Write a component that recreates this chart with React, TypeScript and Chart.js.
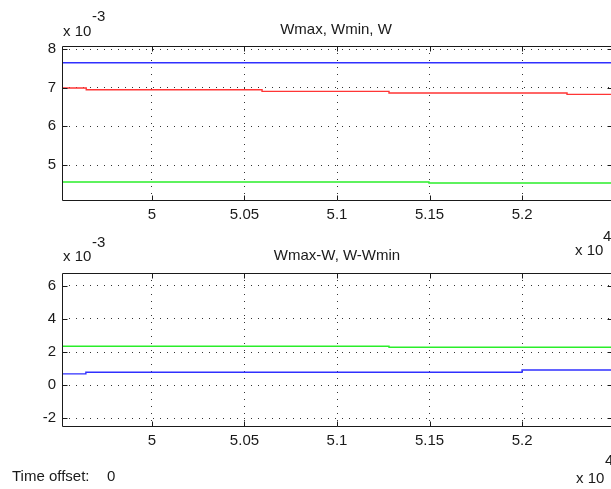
import React, { useEffect, useRef } from 'react';
import { Chart, registerables } from 'chart.js';

Chart.register(...registerables);

// ---- data (time in seconds, signals in their own units) ----
const timeMin = 49514;
const timeMax = 52486;
const timeTickStep = 500;

const wmaxTimes = [49514, 52486];
const wmaxValues = [7.646e-3, 7.646e-3];
const wTimes = [49514, 49645, 50595, 51281, 52243, 52486];
const wValues = [6.992e-3, 6.948e-3, 6.904e-3, 6.863e-3, 6.827e-3, 6.827e-3];
const wminTimes = [49514, 51497, 52486];
const wminValues = [4.56e-3, 4.535e-3, 4.535e-3];

const wmaxMinusWTimes = [49514, 49643, 52000, 52486];
const wmaxMinusWValues = [0.68e-3, 0.78e-3, 0.92e-3, 0.92e-3];
const wMinusWminTimes = [49514, 51281, 52486];
const wMinusWminValues = [2.35e-3, 2.29e-3, 2.29e-3];

const topYMin = 4.095e-3;
const topYMax = 8.078e-3;
const topYStep = 1e-3;
const botYMin = -2.47e-3;
const botYMax = 6.78e-3;
const botYStep = 2e-3;

const topTitle = 'Wmax, Wmin, W';
const botTitle = 'Wmax-W, W-Wmin';
const timeOffsetLabel = 'Time offset:';
const timeOffsetValue = '0';

const FONT_FAMILY = '"Liberation Sans", Arial, sans-serif';
const FONT_SIZE = 15;
const TEXT_COLOR = '#1a1a1a';
const BLUE = '#3030ff';
const RED = '#ff3535';
const GREEN = '#2aee2a';

const pts = (xs: number[], ys: number[]) => xs.map((x, i) => ({ x, y: ys[i] }));

type TextItem = { text: string; x: number; y: number; align: CanvasTextAlign };

const framePlugin = {
  id: 'scopeFrame',
  afterDraw(chart: any, _args: any, opts: any) {
    const ctx = chart.ctx as CanvasRenderingContext2D;
    const a = chart.chartArea;
    const xs = chart.scales.x;
    const ys = chart.scales.y;
    ctx.save();
    ctx.strokeStyle = '#1a1a1a';
    ctx.lineWidth = 1;
    const L = Math.round(a.left) + 0.5;
    const R = Math.round(a.right) + 0.5;
    const T = Math.round(a.top) + 0.5;
    const B = Math.round(a.bottom) + 0.5;
    ctx.beginPath();
    ctx.rect(L, T, R - L, B - T);
    ctx.stroke();
    const tl = 5;
    ctx.beginPath();
    for (const t of xs.ticks) {
      const px = Math.round(xs.getPixelForValue(t.value)) + 0.5;
      ctx.moveTo(px, B);
      ctx.lineTo(px, B - tl);
      ctx.moveTo(px, T);
      ctx.lineTo(px, T + tl);
    }
    for (const t of ys.ticks) {
      const py = Math.round(ys.getPixelForValue(t.value)) + 0.5;
      ctx.moveTo(L, py);
      ctx.lineTo(L + tl, py);
      ctx.moveTo(R, py);
      ctx.lineTo(R - tl, py);
    }
    ctx.stroke();
    ctx.fillStyle = TEXT_COLOR;
    ctx.textBaseline = 'middle';
    ctx.font = `${FONT_SIZE}px ${FONT_FAMILY}`;
    for (const item of (opts.texts || []) as TextItem[]) {
      ctx.textAlign = item.align;
      ctx.fillText(item.text, item.x, item.y);
    }
    ctx.restore();
  },
};

// ticks at every whole multiple of the step inside [min, max]
function stepTicks(step: number) {
  return (s: any) => {
    const ticks: { value: number }[] = [];
    const first = Math.ceil(s.min / step - 1e-9);
    const last = Math.floor(s.max / step + 1e-9);
    for (let k = first; k <= last; k++) {
      ticks.push({ value: Math.round(k * step * 1e9) / 1e9 });
    }
    s.ticks = ticks;
  };
}

function makeConfig(
  datasets: any[],
  yMin: number,
  yMax: number,
  yStep: number,
  padTop: number,
  xAxisHeight: number,
  texts: TextItem[]
) {
  return {
    type: 'line' as const,
    data: { datasets },
    plugins: [framePlugin],
    options: {
      animation: false,
      responsive: false,
      maintainAspectRatio: false,
      events: [],
      layout: { padding: { top: padTop, left: 0, right: 8, bottom: 0 } },
      plugins: {
        legend: { display: false },
        tooltip: { enabled: false },
        title: { display: false },
        scopeFrame: { texts },
      },
      elements: { point: { radius: 0 } },
      scales: {
        x: {
          type: 'linear',
          min: timeMin,
          max: timeMax,
          afterBuildTicks: stepTicks(timeTickStep),
          afterFit: (s: any) => {
            s.height = xAxisHeight;
          },
          grid: { color: '#333', lineWidth: 1, drawTicks: false },
          border: { display: false, dash: [1, 6] },
          ticks: {
            padding: 6,
            maxRotation: 0,
            autoSkip: false,
            color: TEXT_COLOR,
            font: { family: FONT_FAMILY, size: FONT_SIZE },
            callback: (v: number) => String(Math.round(v / 100) / 100),
          },
        },
        y: {
          type: 'linear',
          min: yMin,
          max: yMax,
          afterBuildTicks: stepTicks(yStep),
          afterFit: (s: any) => {
            s.width = 62;
          },
          grid: { color: '#333', lineWidth: 1, drawTicks: false },
          border: { display: false, dash: [1, 6] },
          ticks: {
            padding: 6,
            autoSkip: false,
            color: TEXT_COLOR,
            font: { family: FONT_FAMILY, size: FONT_SIZE },
            callback: (v: number) => String(Math.round(v * 1e3)),
          },
        },
      },
    },
  };
}

function lineDs(data: any[], color: string) {
  return {
    data,
    borderColor: color,
    backgroundColor: color,
    borderWidth: 1.4,
    stepped: 'before',
    pointRadius: 0,
    fill: false,
  };
}

export default function App() {
  const topRef = useRef<HTMLCanvasElement>(null);
  const botRef = useRef<HTMLCanvasElement>(null);

  useEffect(() => {
    const topTexts: TextItem[] = [
      { text: topTitle, x: 336, y: 30, align: 'center' },
      { text: 'x 10', x: 63, y: 32, align: 'left' },
      { text: '-3', x: 92, y: 17, align: 'left' },
      { text: 'x 10', x: 575, y: 251, align: 'left' },
      { text: '4', x: 603, y: 237, align: 'left' },
    ];
    const botTexts: TextItem[] = [
      { text: botTitle, x: 337, y: 256, align: 'center' },
      { text: 'x 10', x: 63, y: 257, align: 'left' },
      { text: '-3', x: 92, y: 243, align: 'left' },
      { text: 'x 10', x: 576, y: 479, align: 'left' },
      { text: '4', x: 605, y: 461, align: 'left' },
      { text: timeOffsetLabel, x: 12, y: 477, align: 'left' },
      { text: timeOffsetValue, x: 107, y: 477, align: 'left' },
    ];
    const top = new Chart(
      topRef.current!,
      makeConfig(
        [
          lineDs(pts(wmaxTimes, wmaxValues), BLUE),
          lineDs(pts(wTimes, wValues), RED),
          lineDs(pts(wminTimes, wminValues), GREEN),
        ],
        topYMin,
        topYMax,
        topYStep,
        46,
        489 - 200,
        topTexts
      ) as any
    );
    const bot = new Chart(
      botRef.current!,
      makeConfig(
        [
          lineDs(pts(wMinusWminTimes, wMinusWminValues), GREEN),
          lineDs(pts(wmaxMinusWTimes, wmaxMinusWValues), BLUE),
        ],
        botYMin,
        botYMax,
        botYStep,
        273,
        489 - 426,
        botTexts
      ) as any
    );
    return () => {
      top.destroy();
      bot.destroy();
    };
  }, []);

  const cs: React.CSSProperties = { position: 'absolute', left: 0, top: 0, width: 620, height: 489 };
  return (
    <div style={{ position: 'fixed', left: 0, top: 0, width: 611, height: 489, overflow: 'hidden', background: '#fff' }}>
      <canvas ref={topRef} width={620} height={489} style={cs} />
      <canvas ref={botRef} width={620} height={489} style={cs} />
    </div>
  );
}
